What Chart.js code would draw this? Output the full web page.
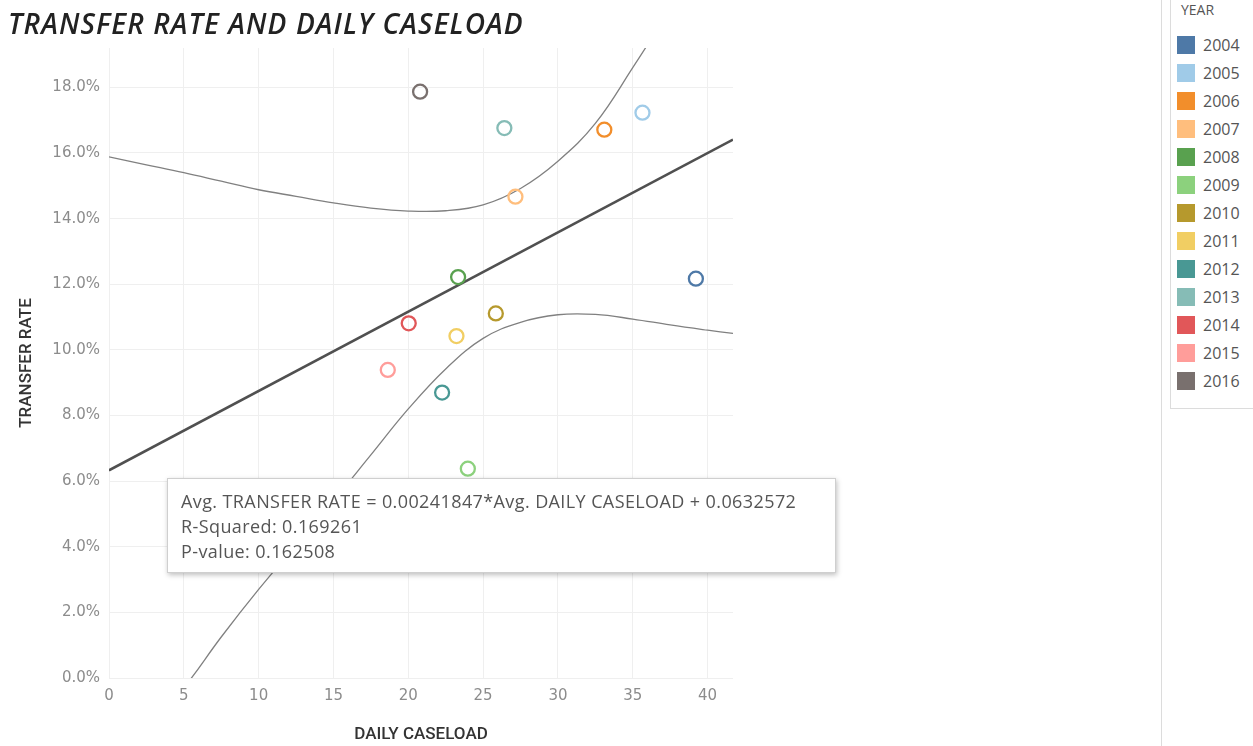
<!DOCTYPE html>
<html>
<head>
<meta charset="utf-8">
<script src="https://cdn.jsdelivr.net/npm/chart.js@4.4.1/dist/chart.umd.min.js"></script>
<style>
    html, body { margin: 0; padding: 0; background: #fff; width: 1253px; height: 746px; overflow: hidden; }
    #title {
        position: absolute; left: 8px; top: 4px; z-index: 3;
        font-family: "Open Sans", sans-serif; font-style: italic; font-size: 28px; font-weight: 600;
        letter-spacing: 1.1px; color: #222; white-space: nowrap;
    }
    #chartBox { position: absolute; left: 0; top: 0; width: 745px; height: 746px; z-index: 1; }
    #fitBox {
        position: absolute; left: 167px; top: 478px; width: 669px; height: 95px; z-index: 4;
        background: #fff; border: 1px solid #cfcfcf; box-shadow: 1px 2px 5px rgba(0,0,0,0.25);
        font-family: "Open Sans", sans-serif; font-size: 18px; letter-spacing: 0.4px; color: #555;
        padding: 10px 0 0 13px; box-sizing: border-box; line-height: 25px; white-space: nowrap;
    }
    #legendRule { position: absolute; left: 1161px; top: 0; width: 1px; height: 746px; background: #dcdcdc; }
    #legend {
        position: absolute; left: 1170px; top: -1px; width: 95px; height: 410px;
        border: 1px solid #dcdcdc; box-sizing: border-box;
        font-family: "Open Sans", sans-serif; color: #555;
    }
    #legend .head { position: absolute; left: 10px; top: 0; font-size: 14px; }
    #legend .row { position: absolute; left: 6px; height: 18px; font-size: 16px; line-height: 18px; }
    #legend .sw { display: inline-block; width: 18px; height: 18px; vertical-align: top; margin-right: 8px; }
</style>
</head>
<body>
<div id="title">TRANSFER RATE AND DAILY CASELOAD</div>
<div id="chartBox"><canvas id="myChart"></canvas></div>
<div id="fitBox">
    <div>Avg. TRANSFER RATE = 0.00241847*Avg. DAILY CASELOAD + 0.0632572</div>
    <div>R-Squared: 0.169261</div>
    <div>P-value: 0.162508</div>
</div>
<div id="legendRule"></div>
<div id="legend"><div class="head">YEAR</div></div>
<script>
// 연도별 데이터
const years = ["2004", "2005", "2006", "2007", "2008", "2009", "2010",
    "2011", "2012", "2013", "2014", "2015", "2016"];
const dailyCaseload = [39.22, 35.65, 33.10, 27.16, 23.33, 23.98, 25.85,
    23.22, 22.26, 26.42, 20.03, 18.63, 20.79];
const transferRate = [12.17, 17.23, 16.71, 14.67, 12.22, 6.38, 11.11,
    10.42, 8.70, 16.76, 10.81, 9.39, 17.87];
const yearColors = ["#4e79a7", "#a0cbe8", "#f28e2b", "#ffbe7d", "#59a14f", "#8cd17d", "#b6992d",
    "#f1ce63", "#499894", "#86bcb6", "#e15759", "#ff9d9a", "#79706e"];

// 추세선 (양 끝점)
const trendCaseload = [0, 41.7];
const trendRate = [6.33, 16.41];

// 신뢰 구간 곡선
const bandCaseload = [0, 2.5, 5, 7.5, 10, 12.5, 15, 17.5, 20, 22.5, 25, 27.5, 30, 32.5, 35, 37.5, 40, 41.7];
const upperBand = [15.88, 15.64, 15.40, 15.14, 14.88, 14.68, 14.48, 14.32, 14.23, 14.24, 14.42, 14.92, 15.75, 16.90, 18.60, 20.40, 22.30, 23.60];
const lowerBand = [-3.00, -1.60, -0.30, 1.25, 2.70, 4.05, 5.40, 6.80, 8.20, 9.42, 10.35, 10.84, 11.07, 11.08, 10.94, 10.76, 10.60, 10.50];

// 축 눈금
const xTickValues = [0, 5, 10, 15, 20, 25, 30, 35, 40];
const yTickValues = [0, 2, 4, 6, 8, 10, 12, 14, 16, 18];

const toPoints = (xs, ys) => xs.map((x, i) => ({ x: x, y: ys[i] }));

// 범례 만들기
const legend = document.getElementById('legend');
years.forEach((year, i) => {
    const row = document.createElement('div');
    row.className = 'row';
    row.style.top = (36 + 28 * i) + 'px';
    row.innerHTML = '<span class="sw" style="background:' + yearColors[i] + '"></span>' + year;
    legend.appendChild(row);
});

const lineStyle = {
    showLine: true,
    pointRadius: 0,
    fill: false,
    tension: 0.4,
    order: 5
};

const datasets = [
    Object.assign({}, lineStyle, {
        label: 'Upper band',
        data: toPoints(bandCaseload, upperBand),
        borderColor: '#808080',
        borderWidth: 1.3
    }),
    Object.assign({}, lineStyle, {
        label: 'Lower band',
        data: toPoints(bandCaseload, lowerBand),
        borderColor: '#808080',
        borderWidth: 1.3
    }),
    Object.assign({}, lineStyle, {
        label: 'Trend',
        data: toPoints(trendCaseload, trendRate),
        borderColor: '#505050',
        borderWidth: 2.6,
        tension: 0
    })
];
years.forEach((year, i) => {
    datasets.push({
        label: year,
        data: [{ x: dailyCaseload[i], y: transferRate[i] }],
        borderColor: yearColors[i],
        backgroundColor: 'rgba(255,255,255,0)',
        borderWidth: 2.3,
        pointRadius: 7,
        showLine: false,
        order: 1
    });
});

const tickFont = { family: 'DejaVu Sans', size: 15 };
const titleFont = { family: 'Roboto', size: 17, weight: '500' };

const ctx = document.getElementById('myChart').getContext('2d');
const myChart = new Chart(ctx, {
    type: 'scatter',
    data: { datasets: datasets },
    options: {
        responsive: true,
        maintainAspectRatio: false,
        animation: false,
        layout: { padding: { top: 48, right: 12, left: 0, bottom: 0 } },
        scales: {
            x: {
                type: 'linear',
                min: 0,
                max: 41.7,
                afterBuildTicks: scale => { scale.ticks = xTickValues.map(v => ({ value: v })); },
                afterFit: scale => { scale.height = 68; },
                ticks: { color: '#8c8c8c', font: tickFont, padding: 9, maxRotation: 0 },
                grid: { color: '#efefef', drawTicks: false },
                border: { display: false },
                title: { display: true, text: 'DAILY CASELOAD', color: '#333', font: titleFont, padding: { top: 0, bottom: 1 } }
            },
            y: {
                type: 'linear',
                min: 0,
                max: 19.2,
                afterBuildTicks: scale => { scale.ticks = yTickValues.map(v => ({ value: v })); },
                afterFit: scale => { scale.width = 109; },
                ticks: {
                    color: '#8c8c8c', font: tickFont, padding: 9,
                    callback: v => v.toFixed(1) + '%'
                },
                grid: { color: '#efefef', drawTicks: false },
                border: { display: false },
                title: { display: true, text: 'TRANSFER RATE', color: '#333', font: titleFont, padding: { top: 17, bottom: 0 } }
            }
        },
        plugins: {
            legend: { display: false },
            tooltip: { enabled: false }
        }
    }
});
</script>
</body>
</html>
